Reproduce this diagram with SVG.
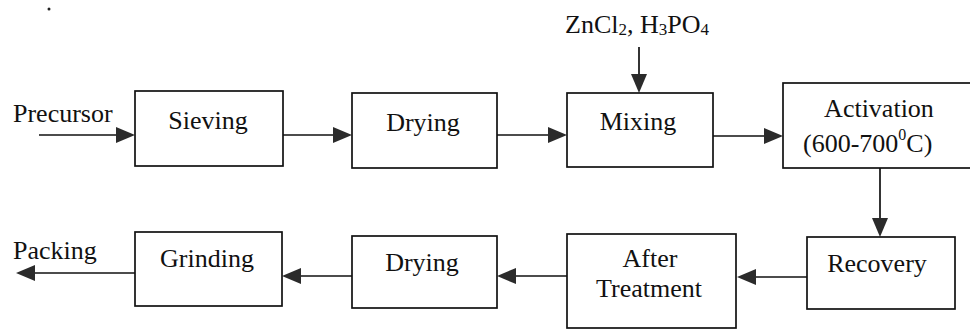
<svg xmlns="http://www.w3.org/2000/svg" width="970" height="329" viewBox="0 0 970 329">
<defs>
<style>
.box{fill:#fff;stroke:#111;stroke-width:1.7}
.lbl{font-family:"Liberation Serif","Times New Roman",serif;font-size:26px;fill:#111}
.mid{text-anchor:middle}
.con{stroke:#111;stroke-width:1.7;fill:none;marker-end:url(#ah)}
</style>
<marker id="ah" markerUnits="userSpaceOnUse" viewBox="0 -8 19 16" refX="0" refY="0" markerWidth="19" markerHeight="16" orient="auto" overflow="visible">
<path d="M0,-8 L19,0 L0,8 Z" fill="#2b2b2b"/>
</marker>
</defs>
<rect width="970" height="329" fill="#fff"/>
<circle cx="49" cy="9" r="1.5" fill="#222"/>

<g id="connectors">
<line class="con" x1="39" y1="135" x2="116" y2="135"/>
<line class="con" x1="283" y1="135" x2="333" y2="135"/>
<line class="con" x1="497" y1="135" x2="548" y2="135"/>
<line class="con" x1="713" y1="136" x2="764" y2="136"/>
<line class="con" x1="639" y1="47" x2="639" y2="74"/>
<line class="con" x1="880" y1="168" x2="880" y2="218"/>
<line class="con" x1="807" y1="277" x2="756" y2="277"/>
<line class="con" x1="567" y1="276" x2="516" y2="276"/>
<line class="con" x1="352" y1="276" x2="301" y2="276"/>
<line class="con" x1="135" y1="273" x2="35" y2="273"/>
</g>

<g id="precursor"><text class="lbl" x="13" y="122">Precursor</text></g>
<g id="reagents"><text class="lbl" x="565" y="33">ZnCl<tspan font-size="17" dy="2">2</tspan><tspan dy="-2">, H</tspan><tspan font-size="17" dy="2">3</tspan><tspan dy="-2">PO</tspan><tspan font-size="17" dy="2">4</tspan></text></g>
<g id="packing"><text class="lbl" x="13" y="259">Packing</text></g>

<g id="sieving"><rect class="box" x="135" y="91" width="148" height="75"/><text class="lbl mid" x="208" y="129">Sieving</text></g>
<g id="drying1"><rect class="box" x="352" y="93" width="145" height="75"/><text class="lbl mid" x="423" y="131">Drying</text></g>
<g id="mixing"><rect class="box" x="567" y="93" width="146" height="74"/><text class="lbl mid" x="638" y="130">Mixing</text></g>
<g id="activation"><rect class="box" x="783" y="83" width="200" height="85"/><text class="lbl mid" x="879" y="117">Activation</text><text class="lbl" x="803" y="152">(600-700<tspan font-size="16" dy="-12">0</tspan><tspan dy="12">C)</tspan></text></g>
<g id="recovery"><rect class="box" x="807" y="237" width="148" height="72"/><text class="lbl mid" x="877" y="272">Recovery</text></g>
<g id="aftertreatment"><rect class="box" x="567" y="234" width="169" height="94"/><text class="lbl mid" x="650" y="267">After</text><text class="lbl mid" x="649" y="297">Treatment</text></g>
<g id="drying2"><rect class="box" x="352" y="236" width="145" height="72"/><text class="lbl mid" x="422" y="271">Drying</text></g>
<g id="grinding"><rect class="box" x="135" y="232" width="147" height="74"/><text class="lbl mid" x="207" y="267">Grinding</text></g>
</svg>
